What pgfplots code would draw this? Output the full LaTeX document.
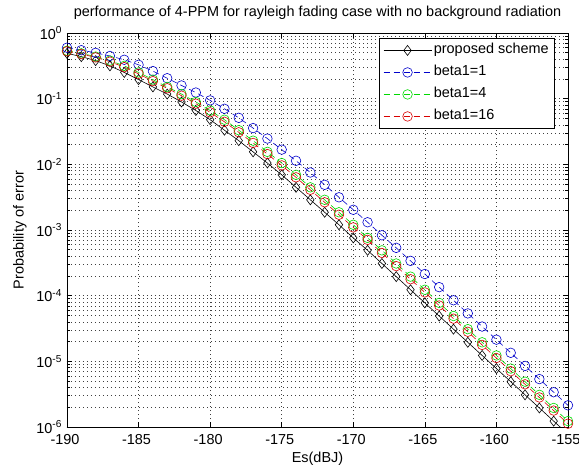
\documentclass[border=0pt]{standalone}
\usepackage{fontspec}
\setmainfont{Liberation Sans}
\usepackage{pgfplots}
\usepackage{pgfplotstable}
\pgfplotsset{compat=1.18}

\pgfplotstableread{
x     black     blue      green     red
-190  4.90e-1   5.97e-1   5.37e-1   5.27e-1
-189  4.37e-1   5.47e-1   4.90e-1   4.79e-1
-188  3.80e-1   4.99e-1   4.37e-1   4.25e-1
-187  3.16e-1   4.47e-1   3.80e-1   3.66e-1
-186  2.51e-1   3.91e-1   3.16e-1   3.02e-1
-185  1.95e-1   3.28e-1   2.51e-1   2.39e-1
-184  1.51e-1   2.63e-1   1.95e-1   1.85e-1
-183  1.175e-1  2.05e-1   1.51e-1   1.44e-1
-182  8.913e-2  1.59e-1   1.175e-1  1.11e-1
-181  6.607e-2  1.24e-1   8.913e-2  8.395e-2
-180  4.786e-2  9.42e-2   6.607e-2  6.194e-2
-179  3.311e-2  7.015e-2  4.786e-2  4.446e-2
-178  2.291e-2  5.105e-2  3.311e-2  3.076e-2
-177  1.549e-2  3.565e-2  2.291e-2  2.118e-2
-176  1.047e-2  2.466e-2  1.549e-2  1.432e-2
-175  6.918e-3  1.675e-2  1.047e-2  9.638e-3
-174  4.467e-3  1.132e-2  6.918e-3  6.339e-3
-173  2.884e-3  7.516e-3  4.467e-3  4.093e-3
-172  1.862e-3  4.875e-3  2.884e-3  2.642e-3
-171  1.202e-3  3.148e-3  1.862e-3  1.706e-3
-170  7.586e-4  2.032e-3  1.202e-3  1.096e-3
-169  4.898e-4  1.312e-3  7.586e-4  7.079e-4
-168  3.090e-4  8.318e-4  4.898e-4  4.467e-4
-167  1.950e-4  5.346e-4  3.090e-4  2.818e-4
-166  1.230e-4  3.388e-4  1.950e-4  1.778e-4
-165  7.762e-5  2.138e-4  1.230e-4  1.122e-4
-164  4.898e-5  1.349e-4  7.762e-5  7.079e-5
-163  3.090e-5  8.511e-5  4.898e-5  4.467e-5
-162  1.950e-5  5.370e-5  3.090e-5  2.818e-5
-161  1.230e-5  3.388e-5  1.950e-5  1.778e-5
-160  7.762e-6  2.138e-5  1.230e-5  1.122e-5
-159  4.898e-6  1.349e-5  7.762e-6  7.079e-6
-158  3.090e-6  8.511e-6  4.898e-6  4.467e-6
-157  1.950e-6  5.370e-6  3.090e-6  2.818e-6
-156  1.230e-6  3.388e-6  1.950e-6  1.778e-6
-155  7.762e-7  2.138e-6  1.230e-6  1.122e-6
}\data

\newcommand{\fs}{\fontsize{14.5}{17}\selectfont}

\begin{document}
\fs
\begin{tikzpicture}
\begin{axis}[
  scale only axis,
  width=501bp, height=394bp,
  xmin=-190, xmax=-155,
  ymode=log, ymin=1e-6, ymax=1,
  xtick={-190,-185,-180,-175,-170,-165,-160,-155},
  xticklabels={-190,-185,-180,-175,-170,-165,-160,-155},
  ytick={1e-6,1e-5,1e-4,1e-3,1e-2,1e-1,1},
  yticklabels={10\textsuperscript{-6},10\textsuperscript{-5},10\textsuperscript{-4},10\textsuperscript{-3},10\textsuperscript{-2},10\textsuperscript{-1},10\textsuperscript{0}},
  ticklabel style={font=\fs},
  xticklabel style={xshift=-2bp, yshift=-2.5bp},
  grid=both,
  major grid style={black!75, line width=0.6pt, dash pattern=on 0.8bp off 3.2bp},
  minor grid style={black!75, line width=0.6pt, dash pattern=on 0.8bp off 3.2bp},
  tick align=inside,
  major tick length=5bp, minor tick length=3bp,
  tick style={black, line width=0.6pt},
  axis line style={black, line width=0.7pt},
  title={performance of 4-PPM for rayleigh fading case with no background radiation},
  title style={at={(axis description cs:0.5,1)}, anchor=center, yshift=14bp, font=\fs},
  xlabel={Es(dBJ)},
  xlabel style={at={(axis description cs:0.5,0)}, anchor=center, yshift=-32bp, font=\fs},
  ylabel={Probability of error},
  ylabel style={at={(axis description cs:0,0.5)}, anchor=center, yshift=47bp, font=\fs},
  legend cell align=left,
  legend style={at={(0.974,0.987)}, anchor=north east, draw=black, line width=0.6pt, fill=white,
    font=\fs, row sep=0bp, inner xsep=4bp, inner ysep=1bp,
    nodes={text height=11bp, text depth=4bp, inner ysep=3.5bp}},
  legend image code/.code={\draw[mark repeat=2,mark phase=2] plot coordinates {(0bp,0bp) (24bp,0bp) (48bp,0bp)};},
]
\addplot[black, line width=0.6pt, mark=diamond, mark size=5bp, mark options={solid}] table[x=x,y=black] {\data};
\addlegendentry{proposed scheme}
\addplot[blue!80!black, line width=0.6pt, dash pattern=on 6bp off 4bp, mark=o, mark size=4.8bp, mark options={solid}] table[x=x,y=blue] {\data};
\addlegendentry{beta1=1}
\addplot[green!85!black, line width=0.6pt, dash pattern=on 6bp off 4bp, mark=o, mark size=4.8bp, mark options={solid}] table[x=x,y=green] {\data};
\addlegendentry{beta1=4}
\addplot[red!85!black, line width=0.6pt, dash pattern=on 6bp off 4bp, mark=o, mark size=4.8bp, mark options={solid}] table[x=x,y=red] {\data};
\addlegendentry{beta1=16}
\end{axis}
\pgfresetboundingbox
\path[use as bounding box] ([xshift=-67bp,yshift=-43bp]current axis.south west) rectangle ([xshift=11bp,yshift=33bp]current axis.north east);
\end{tikzpicture}
\end{document}
